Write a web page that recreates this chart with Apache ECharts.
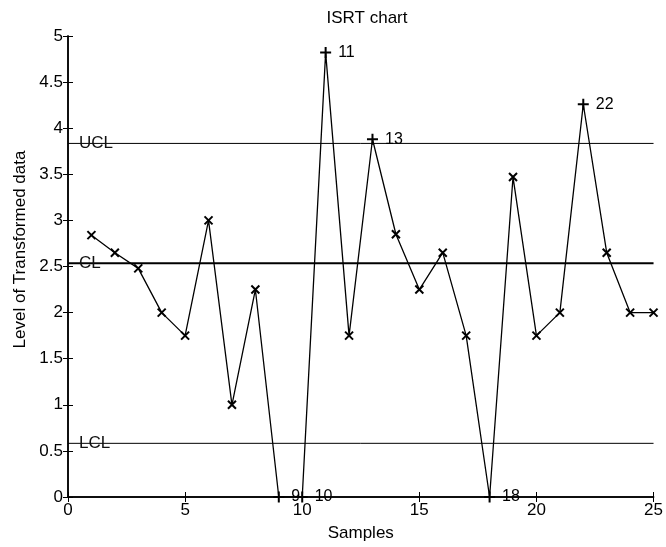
<!DOCTYPE html>
<html>
<head>
<meta charset="utf-8">
<title>ISRT chart</title>
<script src="https://cdn.jsdelivr.net/npm/echarts@6/dist/echarts.min.js"></script>
<style>
  html, body { margin: 0; padding: 0; background: #fff; }
  #chart { width: 666px; height: 547px; }
</style>
</head>
<body>
<div id="chart"></div>
<script>
// Sample numbers and transformed levels
const samples = [1, 2, 3, 4, 5, 6, 7, 8, 9, 10, 11, 12, 13, 14, 15, 16, 17, 18, 19, 20, 21, 22, 23, 24, 25];
const levels = [2.84, 2.65, 2.48, 2.0, 1.75, 3.0, 1.0, 2.25, 0, 0, 4.82, 1.75, 3.88, 2.85, 2.25,
                2.65, 1.75, 0, 3.47, 1.75, 2.0, 4.26, 2.65, 2.0, 2.0];

// Control limits
const limitNames = ['UCL', 'CL', 'LCL'];
const limitValues = [3.835, 2.535, 0.582];

// Axis ranges and ticks
const xTicks = [0, 5, 10, 15, 20, 25];
const yTicks = [0, 0.5, 1, 1.5, 2, 2.5, 3, 3.5, 4, 4.5, 5];

const FONT = '"Liberation Sans", Arial, sans-serif';
const ucl = limitValues[0], lcl = limitValues[2];

const crossPath = 'path://M0,0L10,10M10,0L0,10';
const plusPath = 'path://M5,0L5,10M0,5L10,5';

const pointData = samples.map((s, i) => {
  const v = levels[i];
  const out = v > ucl || v < lcl;
  return {
    value: [s, v],
    symbol: out ? plusPath : crossPath,
    symbolSize: out ? 11 : 8,
    label: {
      show: out,
      formatter: String(s),
      position: 'right',
      distance: 6,
      color: '#000',
      fontFamily: FONT,
      fontSize: 16
    }
  };
});

const limitSeries = limitNames.map((name, k) => ({
  type: 'line',
  name: name,
  silent: true,
  symbol: 'circle',
  symbolSize: 0,
  showSymbol: true,
  lineStyle: { color: '#000', width: name === 'CL' ? 2 : 1 },
  itemStyle: { color: '#000' },
  data: [
    {
      value: [xTicks[0], limitValues[k]],
      label: {
        show: true,
        formatter: name,
        position: 'right',
        distance: 11,
        color: '#111',
        fontFamily: FONT,
        fontSize: 17
      }
    },
    { value: [xTicks[xTicks.length - 1], limitValues[k]], label: { show: false } }
  ],
  z: 1
}));

const axisCommon = {
  type: 'value',
  axisLine: { show: true, lineStyle: { color: '#000', width: 1.5 } },
  axisTick: { show: true, inside: true, length: 5, lineStyle: { color: '#000', width: 1 } },
  splitLine: { show: false }
};

const chart = echarts.init(document.getElementById('chart'), null, { renderer: 'canvas' });
chart.setOption({
  backgroundColor: '#fff',
  animation: false,
  title: {
    text: 'ISRT chart',
    left: 362,
    textAlign: 'center',
    top: 5,
    textStyle: { color: '#000', fontFamily: FONT, fontSize: 17, fontWeight: 'normal' }
  },
  grid: { left: 68, right: 10, top: 36, bottom: 50 },
  xAxis: [
    Object.assign({}, axisCommon, {
      min: xTicks[0], max: xTicks[xTicks.length - 1], interval: 5,
      position: 'bottom',
      name: 'Samples',
      nameLocation: 'middle',
      nameGap: 28,
      nameTextStyle: { color: '#000', fontFamily: FONT, fontSize: 17 },
      axisLabel: { color: '#000', fontFamily: FONT, fontSize: 17, margin: 5 }
    }),
    Object.assign({}, axisCommon, {
      min: xTicks[0], max: xTicks[xTicks.length - 1], interval: 5,
      position: 'top',
      axisLabel: { show: false }
    })
  ],
  yAxis: [
    Object.assign({}, axisCommon, {
      min: yTicks[0], max: yTicks[yTicks.length - 1], interval: 0.5,
      position: 'left',
      name: 'Level of Transformed data',
      nameLocation: 'middle',
      nameGap: 34,
      nameTextStyle: { color: '#000', fontFamily: FONT, fontSize: 17, padding: [0, 0, 0, 34] },
      axisLabel: { color: '#000', fontFamily: FONT, fontSize: 17, margin: 5 }
    }),
    Object.assign({}, axisCommon, {
      min: yTicks[0], max: yTicks[yTicks.length - 1], interval: 0.5,
      position: 'right',
      axisLabel: { show: false }
    })
  ],
  series: limitSeries.concat([{
    type: 'line',
    name: 'ISRT',
    data: pointData,
    lineStyle: { color: '#000', width: 1.3 },
    itemStyle: { color: '#000', borderColor: '#000', borderWidth: 2 },
    showAllSymbol: true,
    z: 3
  }])
});
</script>
</body>
</html>
